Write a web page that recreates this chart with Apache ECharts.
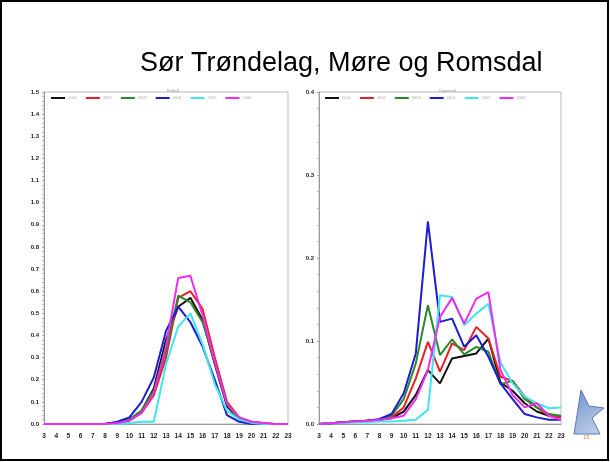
<!DOCTYPE html>
<html>
<head>
<meta charset="utf-8">
<script src="https://cdn.jsdelivr.net/npm/echarts@6/dist/echarts.min.js"></script>
<style>
  html, body { margin: 0; padding: 0; background: #fff; }
  #chart { width: 610px; height: 462px; }
</style>
</head>
<body>
<div id="chart"></div>
<script>
// lengde (x) 3..23
const LENGTHS = [3,4,5,6,7,8,9,10,11,12,13,14,15,16,17,18,19,20,21,22,23]
const YEARS   = ['2001','2002','2003','2004','2005','2006']
const COLORS  = ['#111111','#e8202a','#2a8a2a','#1c1cd0','#3ee6f2','#ee2cee']

// venstre panel
const left2001 = [0,0,0,0,0,0,0.005,0.02,0.06,0.16,0.38,0.53,0.57,0.47,0.27,0.08,0.02,0.005,0,0,0]
const left2002 = [0,0,0,0,0,0,0.005,0.015,0.05,0.13,0.30,0.57,0.60,0.52,0.30,0.10,0.03,0.01,0.005,0,0]
const left2003 = [0,0,0,0,0,0,0.005,0.02,0.06,0.15,0.33,0.58,0.55,0.46,0.28,0.09,0.02,0.005,0,0,0]
const left2004 = [0,0,0,0,0,0,0.01,0.03,0.10,0.21,0.42,0.53,0.46,0.35,0.20,0.04,0.01,0,0,0,0]
const left2005 = [0,0,0,0,0,0,0,0.005,0.01,0.01,0.27,0.44,0.50,0.36,0.18,0.06,0.02,0.005,0,0,0]
const left2006 = [0,0,0,0,0,0,0.005,0.015,0.05,0.14,0.35,0.66,0.67,0.49,0.28,0.09,0.03,0.01,0.005,0,0]

// høyre panel
const right2001 = [0,0.001,0.002,0.003,0.004,0.005,0.007,0.015,0.035,0.065,0.049,0.079,0.082,0.085,0.103,0.05,0.04,0.025,0.015,0.01,0.008]
const right2002 = [0,0.001,0.002,0.003,0.004,0.005,0.008,0.02,0.055,0.099,0.063,0.097,0.089,0.117,0.103,0.057,0.052,0.033,0.02,0.01,0.008]
const right2003 = [0,0.001,0.002,0.003,0.004,0.005,0.01,0.03,0.073,0.143,0.083,0.102,0.084,0.093,0.087,0.048,0.052,0.03,0.02,0.012,0.01]
const right2004 = [0,0.001,0.002,0.003,0.004,0.006,0.012,0.037,0.085,0.244,0.123,0.127,0.093,0.107,0.081,0.049,0.03,0.012,0.008,0.005,0.005]
const right2005 = [0,0.001,0.001,0.002,0.002,0.003,0.003,0.004,0.005,0.017,0.155,0.153,0.119,0.133,0.145,0.074,0.049,0.033,0.025,0.019,0.02]
const right2006 = [0,0.001,0.002,0.003,0.004,0.005,0.007,0.01,0.03,0.065,0.129,0.152,0.121,0.151,0.159,0.065,0.035,0.02,0.025,0.01,0.005]

const LEFT  = [left2001, left2002, left2003, left2004, left2005, left2006]
const RIGHT = [right2001, right2002, right2003, right2004, right2005, right2006]

const chart = echarts.init(document.getElementById('chart'), null, { renderer: 'canvas' })

const pairs = vals => vals.map((v, i) => [LENGTHS[i], v])

const series = []
YEARS.forEach((y, k) => {
  series.push({ name: y, type: 'line', xAxisIndex: 0, yAxisIndex: 0, data: pairs(LEFT[k]),
    symbol: 'none', lineStyle: { color: COLORS[k], width: 2 }, itemStyle: { color: COLORS[k] } })
  series.push({ name: y, type: 'line', xAxisIndex: 1, yAxisIndex: 1, data: pairs(RIGHT[k]),
    symbol: 'none', lineStyle: { color: COLORS[k], width: 2 }, itemStyle: { color: COLORS[k] } })
})

const xAx = gi => ({
  type: 'value', gridIndex: gi, min: 3, max: 23, interval: 1,
  axisLine: { lineStyle: { color: '#999', width: 1 } },
  axisTick: { show: false },
  axisLabel: { color: '#222', fontSize: 6.5, fontWeight: 'bold', margin: 9, fontFamily: 'Arial' },
  splitLine: { show: false },
})
const yAx = (gi, max, interval) => ({
  type: 'value', gridIndex: gi, min: 0, max, interval,
  axisLine: { show: true, lineStyle: { color: '#999', width: 1 } },
  axisTick: { show: true, length: 2, lineStyle: { color: '#aaa' } },
  minorTick: { show: true, splitNumber: 5, length: 2, lineStyle: { color: '#bbb' } },
  axisLabel: { color: '#222', fontSize: 6, fontWeight: 'bold', margin: 5, fontFamily: 'Arial',
    formatter: v => v.toFixed(1) },
  splitLine: { show: false },
})
const legendAt = left => ({
  left, top: 91, data: YEARS, icon: 'rect', itemWidth: 14, itemHeight: 2, itemGap: 9,
  textStyle: { color: '#aaa', fontSize: 4, padding: [0, 0, 0, -2] }, selectedMode: false,
})

chart.setOption({
  backgroundColor: '#fff',
  animation: false,
  title: [
    { text: 'Sør Trøndelag, Møre og Romsdal', left: 135, top: 45,
      textStyle: { fontFamily: 'Liberation Sans, Arial', fontWeight: 'normal', fontSize: 27, color: '#000' } },
    { text: 'Fulltall', left: 162, top: 84, textStyle: { fontSize: 4, color: '#999', fontWeight: 'normal' } },
    { text: 'Ungsmolt', left: 434, top: 84, textStyle: { fontSize: 4, color: '#999', fontWeight: 'normal' } },
  ],
  legend: [legendAt(46), legendAt(320)],
  grid: [
    { left: 44, top: 92, width: 244, height: 332, show: true, borderColor: '#bbb', borderWidth: 1, backgroundColor: 'transparent' },
    { left: 319, top: 92, width: 242, height: 332, show: true, borderColor: '#bbb', borderWidth: 1, backgroundColor: 'transparent' },
  ],
  xAxis: [xAx(0), xAx(1)],
  yAxis: [yAx(0, 1.5, 0.1), yAx(1, 0.4, 0.1)],
  series,
  graphic: [
    { type: 'rect', shape: { x: 1, y: 1, width: 607, height: 459 },
      style: { fill: 'none', stroke: '#000', lineWidth: 2 }, silent: true },
    { type: 'polygon', shape: { points: [[574, 434], [581, 390], [589, 406], [604, 408], [592, 418], [600, 434]] },
      style: { fill: new echarts.graphic.LinearGradient(0, 0, 1, 1, [
        { offset: 0, color: '#6f8fc8' }, { offset: 1, color: '#c9d6ee' }]), stroke: '#5a78b4', lineWidth: 1 } },
    { type: 'text', x: 583, y: 434, style: { text: '15', fill: '#e08a2a', fontSize: 6 } },
  ],
})
</script>
</body>
</html>
